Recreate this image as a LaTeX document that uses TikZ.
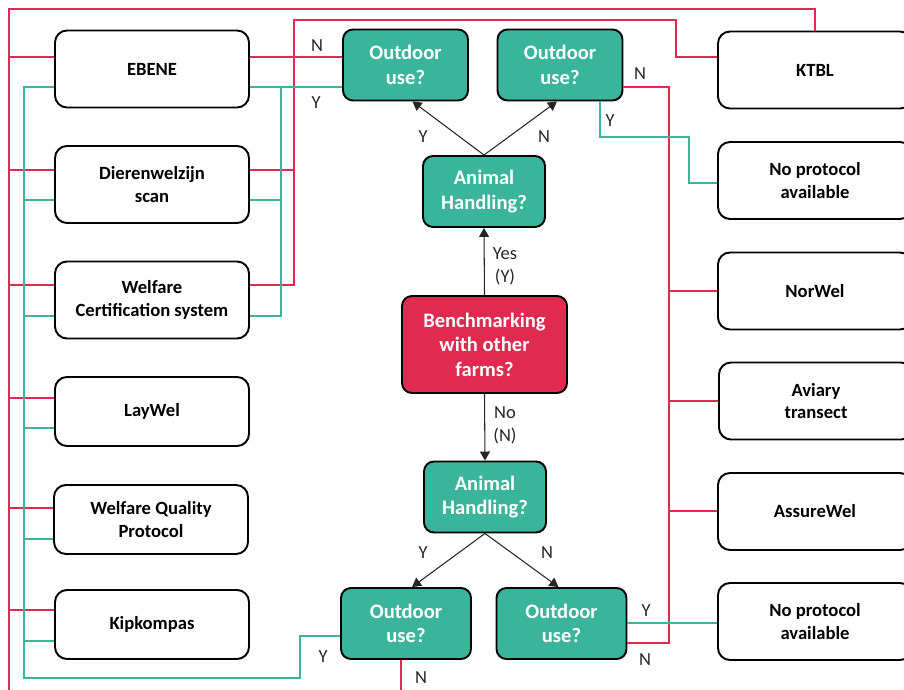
\documentclass[tikz,border=0pt]{standalone}
\usepackage{fontspec}
\setmainfont{Carlito}
\usetikzlibrary{arrows.meta}
\definecolor{ygreen}{HTML}{3AB49B}
\definecolor{nred}{HTML}{E02A4F}

\begin{document}
\begin{tikzpicture}[x=0.2mm,y=-0.2mm,
    tool/.style={draw,rounded corners=2.4mm,line width=1.1pt,minimum width=38.8mm,
                 minimum height=15.4mm,align=center,inner sep=1mm,
                 font=\fontsize{10.6}{12.6}\selectfont\bfseries},
    ask/.style={draw,fill=ygreen,text=white,rounded corners=2mm,line width=1.1pt,
                minimum width=25mm,minimum height=14.2mm,align=center,inner sep=1mm,
                font=\fontsize{11.7}{14}\selectfont\bfseries},
    lab/.style={font=\fontsize{10.5}{13}\selectfont,text=black!85,inner sep=0pt,align=center},
    nline/.style={nred,line width=1.1pt},
    yline/.style={ygreen,line width=1.1pt},
    arr/.style={-{Triangle[length=1.8mm,width=2mm]},black!85,line width=0.6pt}]
\useasboundingbox (0,0) rectangle (904,690);

\node[tool] (ebene) at (152,69) {EBENE};
\node[tool] (dier) at (152,184.5) {Dierenwelzijn\\scan};
\node[tool] (wcs) at (152,300) {Welfare\\Certification system};
\node[tool,minimum height=13.8mm] (laywel) at (152,411.5) {LayWel};
\node[tool,minimum height=13.8mm] (wqp) at (151,519.5) {Welfare Quality\\Protocol};
\node[tool,minimum height=13.8mm] (kip) at (152,624.5) {Kipkompas};

\node[tool] (ktbl) at (815,70) {KTBL};
\node[tool] (noprot1) at (815,180.5) {No protocol\\available};
\node[tool] (norwel) at (815,291) {NorWel};
\node[tool] (aviary) at (816,401) {Aviary\\transect};
\node[tool] (assure) at (815,511.5) {AssureWel};
\node[tool] (noprot2) at (815,621.5) {No protocol\\available};

\node[ask] (odtl) at (405.5,65) {Outdoor\\use?};
\node[ask] (odtr) at (560,65) {Outdoor\\use?};
\node[ask,minimum width=24.4mm] (ahtop) at (484,191.5) {Animal\\Handling?};
\node[ask,fill=nred,minimum width=33mm,minimum height=19.4mm] (bench) at (484.5,344.5) {Benchmarking\\with other\\farms?};
\node[ask,minimum width=24.4mm] (ahbot) at (485,497) {Animal\\Handling?};
\node[ask,minimum width=26mm] (odbl) at (406,623.5) {Outdoor\\use?};
\node[ask,minimum width=26mm] (odbr) at (561.5,623.5) {Outdoor\\use?};

\coordinate (nleft) at (9,9);
\coordinate (yleft) at (24,678);
\coordinate (nmid) at (294,20);
\coordinate (ymid) at (281,87);
\coordinate (nright) at (669,643);
\coordinate (ytop) at (689,137);

% left trunks
\draw[nline] ([xshift=-1mm]odbl.south) -- ++(0,45) -| (nleft) -| (ktbl.north);
\draw[nline] (nleft |- 0,57) -- (ebene.west |- 0,57);
\draw[nline] (nleft |- 0,170) -- (dier.west |- 0,170);
\draw[nline] (nleft |- 0,285) -- (wcs.west |- 0,285);
\draw[nline] (nleft |- 0,398) -- (laywel.west |- 0,398);
\draw[nline] (nleft |- 0,508) -- (wqp.west |- 0,508);
\draw[nline] (nleft |- 0,610) -- (kip.west |- 0,610);
\draw[yline] (odbl.west |- 0,636) -| (300,678) -- (yleft) |- (ebene.west |- 0,87);
\draw[yline] (yleft |- 0,200) -- (dier.west |- 0,200);
\draw[yline] (yleft |- 0,316) -- (wcs.west |- 0,316);
\draw[yline] (yleft |- 0,428) -- (laywel.west |- 0,428);
\draw[yline] (yleft |- 0,539) -- (wqp.west |- 0,539);
\draw[yline] (yleft |- 0,641) -- (kip.west |- 0,641);

% top left question
\draw[nline] (odtl.west |- 0,57) -- (ebene.east |- 0,57);
\draw[nline] (ktbl.west |- 0,57) -| (676,20) -- (nmid) |- (wcs.east |- 0,285);
\draw[nline] (nmid |- 0,170) -- (dier.east |- 0,170);
\draw[yline] (odtl.west |- 0,87) -- (ebene.east |- 0,87);
\draw[yline] (ymid) |- (wcs.east |- 0,316);
\draw[yline] (ymid |- 0,200) -- (dier.east |- 0,200);

% right side
\draw[nline] (odtr.east |- 0,87) -| (nright) -- (odbr.east |- 0,643);
\draw[nline] (nright |- 0,291) -- (norwel.west |- 0,291);
\draw[nline] (nright |- 0,401) -- (aviary.west |- 0,401);
\draw[nline] (nright |- 0,511) -- (assure.west |- 0,511);
\draw[yline] (odtr.south -| 600,0) |- (ytop) |- (noprot1.west |- 0,183);
\draw[yline] (odbr.east |- 0,623) -- (noprot2.west |- 0,623);

\draw[arr] (bench.north) -- (ahtop.south);
\draw[arr] (bench.south) -- (ahbot.north);
\draw[arr] (ahtop.north) -- ([xshift=1.4mm]odtl.south);
\draw[arr] (ahtop.north) -- ([xshift=-0.6mm]odtr.south);
\draw[arr] (ahbot.south) -- ([xshift=1.2mm]odbl.north);
\draw[arr] (ahbot.south) -- ([xshift=-0.6mm]odbr.north);

\node[lab] (n1) at (317,46) {N};
\node[lab] (y1) at (316,103) {Y};
\node[lab] (y2) at (423,137) {Y};
\node[lab] (n2) at (544,137) {N};
\node[lab] (n3) at (640,74) {N};
\node[lab] (y3) at (610,121) {Y};
\node[lab] (yes) at (505,266) {Yes\\(Y)};
\node[lab] (no) at (505,425) {No\\(N)};
\node[lab] (y4) at (423,553) {Y};
\node[lab] (n4) at (547,553) {N};
\node[lab] (y5) at (646,611) {Y};
\node[lab] (n5) at (645,660) {N};
\node[lab] (y6) at (323,657) {Y};
\node[lab] (n6) at (421,678) {N};

\end{tikzpicture}
\end{document}
